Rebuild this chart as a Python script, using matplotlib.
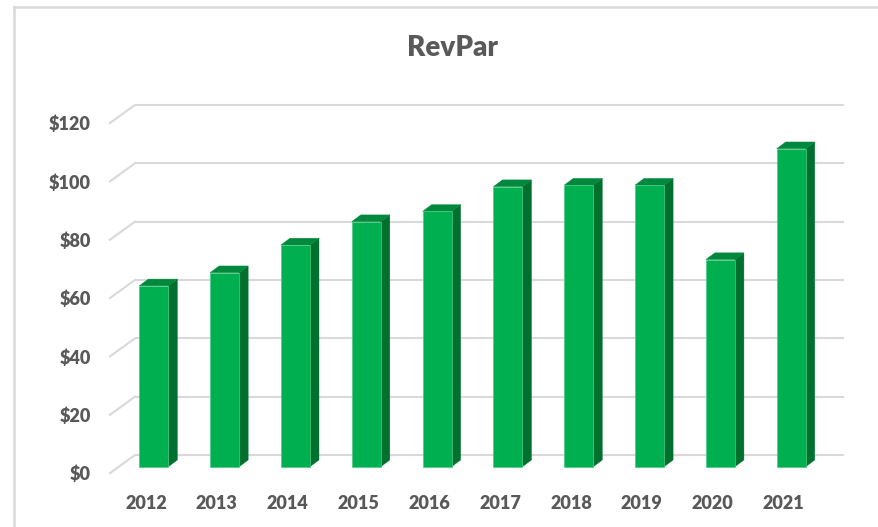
# RevPar 3D-style column chart (Excel look) drawn with plain matplotlib
import matplotlib
matplotlib.use('agg')
import matplotlib.pyplot as plt
from matplotlib.patches import Polygon
from matplotlib.lines import Line2D

years = ['2012', '2013', '2014', '2015', '2016', '2017', '2018', '2019', '2020', '2021']
revpar = [62, 66.5, 76, 84, 87.5, 96, 96.5, 96.5, 71, 109]
ticks = [0, 20, 40, 60, 80, 100, 120]
tick_labels = ['$0', '$20', '$40', '$60', '$80', '$100', '$120']

front_col = '#00B050'
side_col = '#00702F'
top_col = '#00893C'
grid_col = '#D9D9D9'
text_col = '#595959'

plt.rcParams['font.family'] = ['Lato', 'DejaVu Sans']

W, H = 879, 527
fig = plt.figure(figsize=(W / 100, H / 100), dpi=100)

# axes in pixel terms: x 100..850, y 95..480
ax = fig.add_axes([100 / W, (H - 480) / H, 750 / W, 385 / H])
ax.set_xlim(-0.76, 9.83)
ax.set_ylim(-4.56, 127.4)
for s in ax.spines.values():
    s.set_visible(False)

# 3d offsets (in data units)
dx = 0.127    # depth to the right
dy = 2.3      # depth upwards
back_dy = 4.0  # back wall above bar base
front_dy = -2.2  # floor front edge
wall_x0, wall_x1 = -0.266, 9.75
floor_x0 = -0.619

# back wall gridlines + diagonal floor/side lines
for v in ticks:
    ax.plot([wall_x0, wall_x1], [v + back_dy, v + back_dy], color=grid_col, lw=1.5, zorder=1,
            solid_capstyle='butt')
    ax.plot([floor_x0, wall_x0], [v + front_dy, v + back_dy], color=grid_col, lw=1.5, zorder=1)

# bars: front face via ax.bar, side + top as polygons
w = 0.41
x = list(range(len(years)))
ax.bar(x, revpar, width=w, color=front_col, edgecolor='#4cc983', linewidth=0.5, zorder=3)
for xi, v in zip(x, revpar):
    r = xi + w / 2
    l = xi - w / 2
    side = Polygon([(r, 0), (r + dx, dy), (r + dx, v + dy), (r, v)],
                   closed=True, facecolor=side_col, edgecolor=side_col, lw=0.3, zorder=2.5)
    top = Polygon([(l, v), (r, v), (r + dx, v + dy), (l + dx, v + dy)],
                  closed=True, facecolor=top_col, edgecolor=top_col, lw=0.3, zorder=2.5)
    ax.add_patch(side)
    ax.add_patch(top)

# axis labels
ax.set_yticks([t + front_dy for t in ticks])
ax.set_yticklabels(tick_labels, fontsize=13, fontweight='heavy', color=text_col)
ax.set_xticks([xi - 0.11 for xi in x])
ax.set_xticklabels(years, fontsize=13, fontweight='heavy', color=text_col)
ax.tick_params(axis='y', length=0, pad=6.5)
ax.tick_params(axis='x', length=0, pad=11)

fig.text(453 / W, 1 - 48 / H, 'RevPar', ha='center', va='center',
         fontsize=20, fontweight='heavy', color=text_col)

# chart area border (top and left only visible)
fig.add_artist(Line2D([14 / W, 14 / W], [0, 1 - 7 / H], color=grid_col, lw=1.8,
                      transform=fig.transFigure))
fig.add_artist(Line2D([14 / W, 1], [1 - 7 / H, 1 - 7 / H], color=grid_col, lw=1.8,
                      transform=fig.transFigure))

fig.savefig('out.png', dpi=100)
